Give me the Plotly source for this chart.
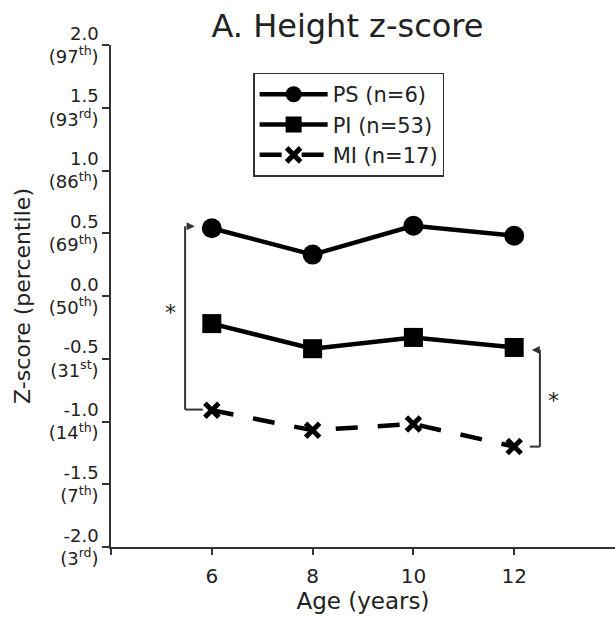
import plotly.graph_objects as go

ages = [6, 8, 10, 12]
ps_vals = [0.54, 0.33, 0.56, 0.48]
pi_vals = [-0.22, -0.42, -0.33, -0.41]
mi_vals = [-0.91, -1.07, -1.02, -1.20]

series_names = ["PS (n=6)", "PI (n=53)", "MI (n=17)"]

y_tickvals = [2.0, 1.5, 1.0, 0.5, 0.0, -0.5, -1.0, -1.5, -2.0]
y_ticktext = [
    "2.0<br>(97<sup>th</sup>)",
    "1.5<br>(93<sup>rd</sup>)",
    "1.0<br>(86<sup>th</sup>)",
    "0.5<br>(69<sup>th</sup>)",
    "0.0<br>(50<sup>th</sup>)",
    "-0.5<br>(31<sup>st</sup>)",
    "-1.0<br>(14<sup>th</sup>)",
    "-1.5<br>(7<sup>th</sup>)",
    "-2.0<br>(3<sup>rd</sup>)",
]
x_tickvals = [4, 6, 8, 10, 12]
x_ticktext = ["", "6", "8", "10", "12"]

# significance brackets (data coordinates)
bracket1 = dict(x=5.47, x_top_end=5.66, x_bot_end=5.82, y_top=0.555, y_bot=-0.905, star_x=5.19, star_y=-0.13)
bracket2 = dict(x=12.51, x_top_end=12.35, x_bot_end=12.31, y_top=-0.43, y_bot=-1.2, star_x=12.77, star_y=-0.83)

FONT = "DejaVu Sans"
TXT = "#222222"
AX = "#333333"

fig = go.Figure()
fig.add_trace(go.Scatter(
    x=ages, y=ps_vals, name=series_names[0], mode="lines+markers",
    line=dict(color="black", width=4.5),
    marker=dict(symbol="circle", size=20, color="black"),
))
fig.add_trace(go.Scatter(
    x=ages, y=pi_vals, name=series_names[1], mode="lines+markers",
    line=dict(color="black", width=4.5),
    marker=dict(symbol="square", size=19, color="black"),
))
fig.add_trace(go.Scatter(
    x=ages, y=mi_vals, name=series_names[2], mode="lines+markers",
    line=dict(color="black", width=4.5, dash="22px,20px"),
    marker=dict(symbol="x-thin", size=14, color="black", line=dict(color="black", width=5)),
))

shapes = []
for b in (bracket1, bracket2):
    shapes.append(dict(type="line", xref="x", yref="y", x0=b["x"], x1=b["x"], y0=b["y_top"], y1=b["y_bot"],
                       line=dict(color=AX, width=2)))
    shapes.append(dict(type="line", xref="x", yref="y", x0=b["x"], x1=b["x_bot_end"], y0=b["y_bot"], y1=b["y_bot"],
                       line=dict(color=AX, width=2)))

annotations = []
for b in (bracket1, bracket2):
    annotations.append(dict(x=b["x_top_end"], y=b["y_top"], ax=b["x"], ay=b["y_top"], xref="x", yref="y",
                            axref="x", ayref="y", text="", showarrow=True, arrowhead=2, arrowsize=0.8,
                            arrowwidth=2, arrowcolor=AX, standoff=0))
    annotations.append(dict(x=b["star_x"], y=b["star_y"], xref="x", yref="y", text="*", showarrow=False,
                            font=dict(family=FONT, size=22, color=TXT)))

fig.update_layout(
    width=615, height=620,
    margin=dict(l=111, r=0, t=45, b=73, autoexpand=False),
    paper_bgcolor="white", plot_bgcolor="white",
    font=dict(family=FONT, color=TXT),
    title=dict(text="A. Height z-score", x=0.565, xanchor="center", xref="container",
               y=0.958, yanchor="middle", yref="container",
               font=dict(family=FONT, size=32, color=TXT)),
    showlegend=True,
    legend=dict(x=0.282, y=0.945, xanchor="left", yanchor="top",
                bordercolor=AX, borderwidth=1.5, bgcolor="white",
                font=dict(family=FONT, size=21, color=TXT),
                tracegroupgap=0, itemwidth=68),
    shapes=shapes,
    annotations=annotations,
)
fig.update_xaxes(
    range=[4, 14], tickvals=x_tickvals, ticktext=x_ticktext, automargin=False,
    showline=True, linecolor=AX, linewidth=1.5, ticks="outside", ticklen=6, tickwidth=1.5, tickcolor=AX,
    showgrid=False, zeroline=False,
    tickfont=dict(family=FONT, size=20, color=TXT), ticklabelstandoff=4,
    title=dict(text="Age (years)", font=dict(family=FONT, size=23, color=TXT), standoff=0),
)
fig.update_yaxes(
    range=[-2, 2], tickvals=y_tickvals, ticktext=y_ticktext, automargin=False,
    showline=True, linecolor=AX, linewidth=1.5, ticks="outside", ticklen=7, tickwidth=1.5, tickcolor=AX,
    showgrid=False, zeroline=False,
    tickfont=dict(family=FONT, size=18, color=TXT),
    title=dict(text="Z-score (percentile)", font=dict(family=FONT, size=22, color=TXT), standoff=12),
)

fig.write_html("out.html", post_script="document.body.style.margin='0';",
               config={"displayModeBar": False})
